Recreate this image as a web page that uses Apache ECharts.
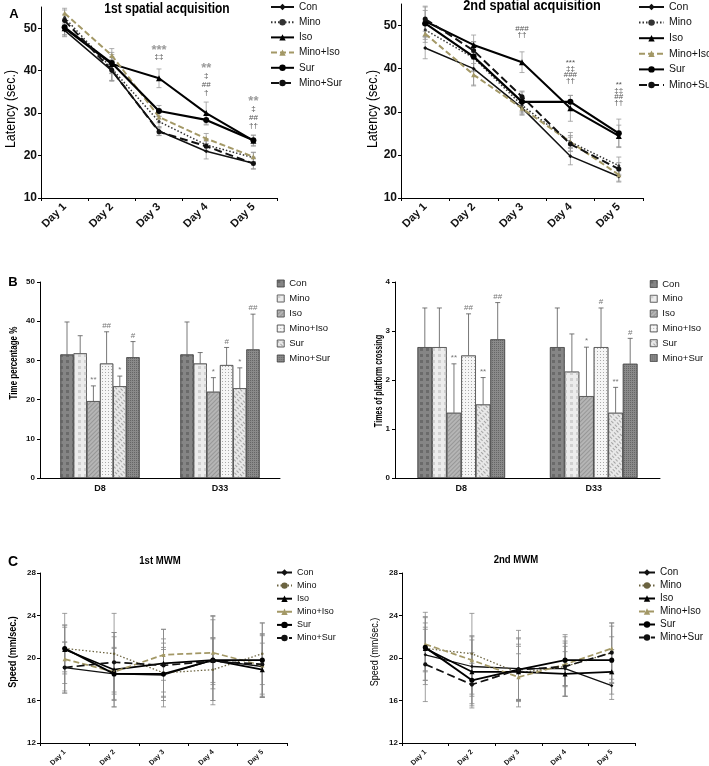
<!DOCTYPE html>
<html><head><meta charset="utf-8">
<script src="https://cdn.jsdelivr.net/npm/echarts@6/dist/echarts.min.js"></script>
<style>
html,body{margin:0;padding:0;background:#fff;width:709px;height:766px;overflow:hidden;}
.c{position:absolute;left:0;top:0;width:709px;height:766px;}
</style></head>
<body>
<div id="p1" class="c"></div><div id="p2" class="c"></div><div id="p3" class="c"></div>
<div id="p4" class="c"></div><div id="p5" class="c"></div><div id="p6" class="c"></div>
<script>
// ---------- DATA ----------
const groups = ['Con','Mino','Iso','Mino+Iso','Sur','Mino+Sur'];
const days = ['Day 1','Day 2','Day 3','Day 4','Day 5'];
const sessions = ['D8','D33'];
const latencyTicks = [10,20,30,40,50];
const pctTicks = [0,10,20,30,40,50];
const crossTicks = [0,1,2,3,4];
const speedTicks = [12,16,20,24,28];

// A: latency, 1st spatial acquisition (rows follow groups)
const latency1 = [
  [49.5, 40.0, 25.8, 21.0, 18.2],
  [52.5, 40.5, 28.0, 22.5, 19.5],
  [50.0, 41.6, 38.2, 30.0, 23.5],
  [53.5, 43.6, 29.1, 24.0, 19.7],
  [50.2, 41.8, 30.5, 28.4, 23.6],
  [51.8, 40.1, 25.6, 22.2, 18.1]
];
const latency1Err = [
  [1.5, 2.5, 1.0, 1.8, 1.4],
  [1.8, 2.8, 1.3, 1.3, 1.2],
  [1.8, 2.2, 2.2, 2.6, 1.3],
  [1.2, 1.6, 1.4, 1.2, 1.1],
  [1.7, 2.5, 1.3, 1.2, 1.2],
  [1.5, 2.4, 0.9, 1.2, 1.2]
];
const latency1Ann = [[2,44.8,'***'],[2,43.2,'‡‡'],[3,40.5,'**'],[3,38.7,'‡'],[3,36.7,'##'],[3,34.7,'†'],
  [4,32.7,'**'],[4,31.1,'‡'],[4,28.9,'##'],[4,27.0,'††']];

// A: latency, 2nd spatial acquisition
const latency2 = [
  [44.8, 40.0, 30.9, 19.7, 15.0],
  [49.0, 42.5, 31.5, 23.0, 17.5],
  [51.0, 45.5, 41.5, 30.8, 24.4],
  [48.1, 38.6, 30.8, 23.0, 15.4],
  [50.5, 42.8, 32.3, 32.3, 25.0],
  [51.5, 44.2, 33.5, 22.5, 16.7]
];
const latency2Err = [
  [2.5, 3.8, 1.5, 2.0, 1.3],
  [2.2, 3.0, 1.8, 2.2, 2.0],
  [3.5, 2.3, 2.4, 3.0, 2.5],
  [2.0, 2.6, 1.6, 1.5, 1.5],
  [3.0, 3.5, 2.3, 1.5, 3.3],
  [2.8, 2.0, 1.3, 1.6, 1.5]
];
const latency2Ann = [[2,49.2,'###'],[2,47.9,'††'],[3,41.3,'***'],[3,40.0,'‡‡'],[3,38.6,'###'],[3,37.2,'††'],
  [4,36.2,'**'],[4,34.8,'‡‡'],[4,33.4,'##'],[4,32.0,'††']];

// B: time percentage % (rows follow groups, columns follow sessions)
const pctMean = [[31.5,31.5],[31.8,29.2],[19.6,22.0],[29.2,28.8],[23.4,22.9],[30.8,32.8]];
const pctSD   = [[8.3,8.3],[4.5,2.8],[3.9,3.6],[8.1,4.5],[2.6,5.2],[4.0,9.0]];
const pctAnn  = [['','','**','##','*','#'],['','','*','#','*','##']];

// B: times of platform crossing
const crossMean = [[2.67,2.67],[2.67,2.17],[1.33,1.67],[2.5,2.67],[1.5,1.33],[2.83,2.33]];
const crossSD   = [[0.8,0.8],[0.8,0.77],[1.0,1.0],[0.85,0.8],[0.55,0.52],[0.75,0.52]];
const crossAnn  = [['','','**','##','**','##'],['','','*','#','**','#']];

// C: swimming speed, 1st MWM
const speed1 = [
  [19.1, 18.5, 18.4, 19.8, 19.2],
  [20.9, 20.4, 18.6, 18.9, 20.4],
  [20.8, 18.9, 19.5, 19.8, 18.9],
  [19.9, 18.7, 20.3, 20.5, 19.3],
  [20.9, 18.5, 18.5, 19.8, 19.8],
  [19.1, 19.6, 19.3, 19.7, 19.4]
];
const speed1Err = [
  [2.4, 2.5, 3.0, 2.1, 2.9],
  [3.3, 3.8, 2.2, 2.9, 2.9],
  [2.3, 3.5, 3.2, 4.2, 2.5],
  [3.0, 3.3, 2.4, 3.4, 3.0],
  [2.2, 2.4, 2.5, 3.8, 3.5],
  [2.4, 2.8, 2.5, 2.2, 2.8]
];
// C: swimming speed, 2nd MWM
const speed2 = [
  [20.3, 19.2, 19.0, 19.0, 17.4],
  [20.9, 20.4, 18.6, 19.2, 20.5],
  [20.9, 18.7, 18.7, 18.5, 18.7],
  [21.3, 19.8, 18.2, 19.4, 20.9],
  [21.0, 17.9, 18.9, 19.8, 19.8],
  [19.4, 17.5, 18.9, 19.2, 20.5]
];
const speed2Err = [
  [2.4, 2.8, 3.6, 2.6, 1.3],
  [3.4, 3.8, 2.5, 2.8, 2.8],
  [3.0, 3.0, 2.6, 2.1, 2.1],
  [2.5, 2.3, 2.2, 2.0, 2.4],
  [2.3, 2.6, 3.0, 2.4, 2.2],
  [3.5, 2.0, 2.9, 1.9, 2.5]
];

// ---------- STYLES ----------
const FF = '"Liberation Sans", Arial, sans-serif';
const lineStyles = [
  {color:'#111', type:'solid', width:1.5, symbol:'diamond', size:4},
  {color:'#333', type:[1.5,2], width:1.5, symbol:'circle', size:3},
  {color:'#000', type:'solid', width:2, symbol:'triangle', size:6},
  {color:'#a39866', type:[6,3], width:2, symbol:'triangle', size:5},
  {color:'#000', type:'solid', width:2.2, symbol:'circle', size:6},
  {color:'#111', type:[8,4], width:2, symbol:'circle', size:5}
];
const barStyles = [
  {color:'#858585', decal:{symbol:'rect', symbolSize:1, color:'#6a6a6a', dashArrayX:[3,3], dashArrayY:[3,3]}},
  {color:'#ececec', decal:{symbol:'rect', symbolSize:1, color:'#d0d0d0', dashArrayX:[3,3], dashArrayY:[3,3]}},
  {color:'#b5b5b5', decal:{symbol:'rect', symbolSize:1, color:'#979797', dashArrayX:[1,0], dashArrayY:[1,2], rotation:-Math.PI/4}},
  {color:'#f6f6f6', decal:{symbol:'rect', symbolSize:1, color:'#aaaaaa', dashArrayX:[1,2], dashArrayY:[1,2]}},
  {color:'#e8e8e8', decal:{symbol:'rect', symbolSize:1, color:'#a4a4a4', dashArrayX:[3,2], dashArrayY:[1,2], rotation:Math.PI/4}},
  {color:'#8a8a8a', decal:{symbol:'rect', symbolSize:1, color:'#666666', dashArrayX:[1,1], dashArrayY:[1,1]}}
];

function axisBase(fs){
  return {
    axisLine:{show:true, lineStyle:{color:'#000', width:1}},
    axisTick:{show:true, length:3, lineStyle:{color:'#000'}},
    splitLine:{show:false},
    axisLabel:{color:'#111', fontFamily:FF, fontWeight:'bold', fontSize:fs}
  };
}

function txt(t, x, y, font, rot, sx){
  return {type:'text', x:x, y:y, rotation:rot||0, scaleX:sx||1, style:{text:t, font:font+' '+FF, fill:'#000',
    textAlign:'center', textVerticalAlign:'middle'}};
}

function linePanel(o){
  const series = [];
  const errData = [];
  groups.forEach((g,i)=>{
    const st = lineStyles[i];
    const col = (o.colors && o.colors[i]) || st.color;
    series.push({
      name:g, type:'line', data:o.means[i], z:3,
      symbol:st.symbol, symbolSize:st.size*o.scale, showSymbol:true,
      lineStyle:{color:col, type:st.type, width:st.width*o.scale},
      itemStyle:{color:col}, emphasis:{disabled:true}
    });
    o.means[i].forEach((m,d)=>errData.push([d, m-o.errs[i][d], m+o.errs[i][d]]));
  });
  series.push({
    type:'custom', z:1, data:errData, encode:{x:0, y:[1,2]}, silent:true,
    renderItem:(p,api)=>{
      const a = api.coord([api.value(0), api.value(1)]);
      const b = api.coord([api.value(0), api.value(2)]);
      const w = 2.5, s = {stroke:o.errColor, lineWidth:0.8};
      return {type:'group', children:[
        {type:'line', shape:{x1:a[0],y1:a[1],x2:b[0],y2:b[1]}, style:s},
        {type:'line', shape:{x1:a[0]-w,y1:a[1],x2:a[0]+w,y2:a[1]}, style:s},
        {type:'line', shape:{x1:b[0]-w,y1:b[1],x2:b[0]+w,y2:b[1]}, style:s}
      ]};
    }
  });
  if (o.ann){
    series.push({
      type:'custom', z:4, silent:true, data:o.ann.map(a=>[a[0],a[1]]), encode:{x:0,y:1},
      renderItem:(p,api)=>{
        const c = api.coord([api.value(0), api.value(1)]);
        const t = o.ann[p.dataIndex][2];
        const star = t.indexOf('*')>=0 && o.bigStars;
        return {type:'text', x:c[0], y:c[1], style:{text:t, fill:star?'#9a9a9a':'#555',
          font:(star?'bold 13px ':'8px ')+FF, textAlign:'center', textVerticalAlign:'middle'}};
      }
    });
  }
  const yb = axisBase(o.yFont);
  const xb = axisBase(o.xFont);
  return {
    animation:false,
    grid:Object.assign({containLabel:false, outerBoundsMode:'none'}, o.grid),
    legend:{orient:'vertical', left:o.legend.left, top:o.legend.top, padding:0,
      itemWidth:o.legend.w, itemHeight:8, itemGap:o.legend.gap, selectedMode:false,
      data:groups, textStyle:{fontFamily:FF, fontSize:o.legend.fs, color:'#111', lineHeight:o.legend.lh}},
    xAxis:Object.assign(xb, {type:'category', data:days, boundaryGap:true,
      axisLabel:Object.assign(xb.axisLabel, {rotate:45, margin:o.xMargin, interval:0})}),
    yAxis:Object.assign(yb, {type:'value', min:o.ticks[0], max:o.yMax, interval:o.ticks[1]-o.ticks[0],
      axisLabel:Object.assign(yb.axisLabel, {showMaxLabel:o.showMax, margin:4})}),
    graphic:o.graphic,
    series:series
  };
}

function barPanel(o){
  const series = [];
  const errData = [];
  groups.forEach((g,i)=>{
    series.push({
      name:g, type:'bar', data:o.means[i], barGap:'0%', barCategoryGap:'34%', z:2,
      itemStyle:{color:barStyles[i].color, decal:barStyles[i].decal, borderColor:'#444', borderWidth:0.6},
      emphasis:{disabled:true}
    });
    o.means[i].forEach((m,s)=>errData.push([s, i, m, m+o.sd[i][s]]));
  });
  series.push({
    type:'custom', z:3, silent:true, data:errData, encode:{x:0, y:3},
    renderItem:(p,api)=>{
      const s = api.value(0), g = api.value(1);
      const base = api.coord([s, api.value(2)]);
      const top = api.coord([s, api.value(3)]);
      const bw = api.size([1,0])[0]*0.66/6;
      const x = base[0] + (g-2.5)*bw;
      const st = {stroke:'#555', lineWidth:0.8};
      const ch = [
        {type:'line', shape:{x1:x,y1:base[1],x2:x,y2:top[1]}, style:st},
        {type:'line', shape:{x1:x-2.5,y1:top[1],x2:x+2.5,y2:top[1]}, style:st}
      ];
      const t = o.ann[s][g];
      if (t) ch.push({type:'text', x:x, y:top[1]-2, style:{text:t, fill:'#777', font:'8px '+FF,
        textAlign:'center', textVerticalAlign:'bottom'}});
      return {type:'group', children:ch};
    }
  });
  const yb = axisBase(8);
  const xb = axisBase(9);
  return {
    animation:false,
    grid:Object.assign({containLabel:false, outerBoundsMode:'none'}, o.grid),
    legend:{orient:'vertical', left:o.legend.left, top:o.legend.top, padding:0, icon:'rect',
      itemWidth:7, itemHeight:7, itemGap:o.legend.gap, selectedMode:false, data:groups,
      itemStyle:{borderColor:'#444', borderWidth:0.5},
      textStyle:{fontFamily:FF, fontSize:o.legend.fs, color:'#111', lineHeight:13}},
    xAxis:Object.assign(xb, {type:'category', data:sessions, axisTick:{show:false},
      axisLabel:Object.assign(xb.axisLabel, {margin:6})}),
    yAxis:Object.assign(yb, {type:'value', min:o.ticks[0], max:o.ticks[o.ticks.length-1],
      interval:o.ticks[1]-o.ticks[0], axisLabel:Object.assign(yb.axisLabel, {margin:5})}),
    graphic:o.graphic,
    series:series
  };
}

const R = Math.PI/2;
const opts = [
  linePanel({grid:{left:41, top:7, width:236, height:191}, ticks:latencyTicks, yMax:55, showMax:false,
    means:latency1, errs:latency1Err, ann:latency1Ann, bigStars:true, errColor:'#999', scale:1,
    yFont:12, xFont:11, xMargin:7,
    legend:{left:270, top:0, w:23, gap:1.2, fs:10, lh:14},
    graphic:[txt('A',14,14,'bold 13px'), txt('1st spatial acquisition',167,9,'bold 15px',0,0.8),
      txt('Latency (sec.)',11,109,'15px',R,0.83)]}),
  linePanel({grid:{left:401, top:4, width:242, height:194}, ticks:latencyTicks, yMax:55, showMax:false,
    means:latency2, errs:latency2Err, ann:latency2Ann, bigStars:false, errColor:'#999', scale:1,
    yFont:12, xFont:11, xMargin:7,
    legend:{left:638, top:0, w:25, gap:1.6, fs:10.5, lh:14},
    graphic:[txt('2nd spatial acquisition',532,6,'bold 15px',0,0.85), txt('Latency (sec.)',373,109,'15px',R,0.83)]}),
  barPanel({grid:{left:40, top:282, width:240, height:196}, ticks:pctTicks, means:pctMean, sd:pctSD,
    ann:pctAnn, legend:{left:277, top:277, gap:2, fs:9.5},
    graphic:[txt('B',13,282,'bold 13px'), txt('Time percentage %',14,363,'bold 10px',R,0.8)]}),
  barPanel({grid:{left:395, top:282, width:265, height:196}, ticks:crossTicks, means:crossMean, sd:crossSD,
    ann:crossAnn, legend:{left:650, top:277.5, gap:1.8, fs:9.5},
    graphic:[txt('Times of platform crossing',379,381,'bold 10px',R,0.72)]}),
  linePanel({grid:{left:40, top:573, width:247, height:170}, ticks:speedTicks, yMax:28, showMax:true,
    means:speed1, errs:speed1Err, ann:null, errColor:'#888', scale:0.85,
    colors:[null,'#6b6340',null,null,null,null], yFont:8, xFont:7, xMargin:8,
    legend:{left:276, top:566.5, w:15, gap:1.1, fs:9, lh:12},
    graphic:[txt('C',13,562,'bold 14px'), txt('1st MWM',160,561,'bold 11px',0,0.87),
      txt('Speed (mm/sec.)',13,652,'bold 11px',R,0.82)]}),
  linePanel({grid:{left:402, top:573, width:233, height:170}, ticks:speedTicks, yMax:28, showMax:true,
    means:speed2, errs:speed2Err, ann:null, errColor:'#888', scale:0.85,
    colors:[null,'#6b6340',null,null,null,null], yFont:8, xFont:7, xMargin:8,
    legend:{left:638, top:566.5, w:16, gap:1, fs:10, lh:12},
    graphic:[txt('2nd MWM',516,560,'bold 11px',0,0.87), txt('Speed (mm/sec.)',375,652,'11px',R,0.82)]})
];
opts.forEach((op,i)=>{
  const ch = echarts.init(document.getElementById('p'+(i+1)), null, {renderer:'canvas'});
  ch.setOption(op);
});
</script>
</body></html>
